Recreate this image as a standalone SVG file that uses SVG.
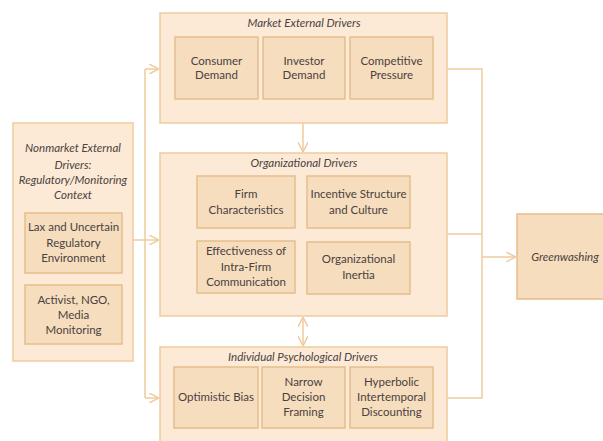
<svg xmlns="http://www.w3.org/2000/svg" width="603" height="441" viewBox="0 0 603 441">
<defs>
<style>
.outer{fill:#FCEAD6;stroke:#EFCB9E;stroke-width:1.5}
.inner{fill:#F6DDBD;stroke:#E6BD8A;stroke-width:1.5}
.gw{fill:#F6DDBD;stroke:#E6BD8A;stroke-width:1.5}
.t{font-family:Lato,"Open Sans",sans-serif;font-size:11.5px;fill:#4A4141;text-anchor:middle}
.ti{font-family:Lato,"Open Sans",sans-serif;font-size:11.5px;font-style:italic;fill:#4A4141;text-anchor:middle}
.c{fill:none;stroke:#EFCB9E;stroke-width:1.5}
</style>
<marker id="ah" viewBox="0 0 10 10" refX="10" refY="5" markerWidth="10" markerHeight="10" markerUnits="userSpaceOnUse" orient="auto-start-reverse">
<path d="M0,0 L10,5 L0,10" fill="none" stroke="#EFCB9E" stroke-width="1.5"/>
</marker>
</defs>
<rect width="603" height="441" fill="#FFFFFF"/>

<g id="connectors">
<path class="c" d="M133,240 H145"/>
<path class="c" d="M145,69 V398"/>
<path class="c" d="M145,69 H159" marker-end="url(#ah)"/>
<path class="c" d="M145,240 H159" marker-end="url(#ah)"/>
<path class="c" d="M145,398 H159" marker-end="url(#ah)"/>
<path class="c" d="M303,123 V152" marker-end="url(#ah)"/>
<path class="c" d="M303,317 V346" marker-start="url(#ah)" marker-end="url(#ah)"/>
<path class="c" d="M447,69 H482 V398 H447"/>
<path class="c" d="M447,234 H482"/>
<path class="c" d="M482,257 H516" marker-end="url(#ah)"/>
</g>

<g id="market">
<rect class="outer" x="160" y="13" width="287" height="110"/>
<text class="ti" x="304" y="27">Market External Drivers</text>
</g>
<g id="consumer-demand">
<rect class="inner" x="175" y="37" width="83" height="62"/>
<text class="t" x="216.5" y="65">Consumer</text>
<text class="t" x="216.5" y="79">Demand</text>
</g>
<g id="investor-demand">
<rect class="inner" x="263" y="37" width="82" height="62"/>
<text class="t" x="304" y="65">Investor</text>
<text class="t" x="304" y="79">Demand</text>
</g>
<g id="competitive-pressure">
<rect class="inner" x="350" y="37" width="83" height="62"/>
<text class="t" x="391.5" y="65">Competitive</text>
<text class="t" x="391.5" y="79">Pressure</text>
</g>

<g id="nonmarket">
<rect class="outer" x="13" y="123" width="120" height="238"/>
<text class="ti" x="73" y="152">Nonmarket External</text>
<text class="ti" x="73" y="169">Drivers:</text>
<text class="ti" x="73" y="184">Regulatory/Monitoring</text>
<text class="ti" x="73" y="199">Context</text>
</g>
<g id="lax">
<rect class="inner" x="25" y="213" width="97" height="60"/>
<text class="t" x="73.5" y="231">Lax and Uncertain</text>
<text class="t" x="73.5" y="247">Regulatory</text>
<text class="t" x="73.5" y="262">Environment</text>
</g>
<g id="activist">
<rect class="inner" x="25" y="285" width="97" height="59"/>
<text class="t" x="73.5" y="304">Activist, NGO,</text>
<text class="t" x="73.5" y="319">Media</text>
<text class="t" x="73.5" y="334">Monitoring</text>
</g>

<g id="organizational">
<rect class="outer" x="160" y="153" width="287" height="163"/>
<text class="ti" x="304" y="167">Organizational Drivers</text>
</g>
<g id="firm">
<rect class="inner" x="197" y="176" width="98" height="52"/>
<text class="t" x="246" y="198">Firm</text>
<text class="t" x="246" y="214">Characteristics</text>
</g>
<g id="incentive">
<rect class="inner" x="307" y="176" width="103" height="52"/>
<text class="t" x="358.5" y="198">Incentive Structure</text>
<text class="t" x="358.5" y="214">and Culture</text>
</g>
<g id="effectiveness">
<rect class="inner" x="197" y="241" width="98" height="52"/>
<text class="t" x="246" y="255">Effectiveness of</text>
<text class="t" x="246" y="271">Intra-Firm</text>
<text class="t" x="246" y="286">Communication</text>
</g>
<g id="inertia">
<rect class="inner" x="307" y="242" width="103" height="52"/>
<text class="t" x="358.5" y="263">Organizational</text>
<text class="t" x="358.5" y="279">Inertia</text>
</g>

<g id="psychological">
<rect class="outer" x="160" y="347" width="287" height="100"/>
<text class="ti" x="303" y="361">Individual Psychological Drivers</text>
</g>
<g id="optimistic">
<rect class="inner" x="174" y="367" width="84" height="61"/>
<text class="t" x="216" y="401">Optimistic Bias</text>
</g>
<g id="narrow">
<rect class="inner" x="262" y="367" width="83" height="61"/>
<text class="t" x="303.5" y="386">Narrow</text>
<text class="t" x="303.5" y="401">Decision</text>
<text class="t" x="303.5" y="416">Framing</text>
</g>
<g id="hyperbolic">
<rect class="inner" x="350" y="367" width="83" height="61"/>
<text class="t" x="391.5" y="386">Hyperbolic</text>
<text class="t" x="391.5" y="401">Intertemporal</text>
<text class="t" x="391.5" y="416">Discounting</text>
</g>

<g id="greenwashing">
<rect class="gw" x="517" y="214" width="90" height="85"/>
<text class="ti" x="565" y="261">Greenwashing</text>
</g>
</svg>
